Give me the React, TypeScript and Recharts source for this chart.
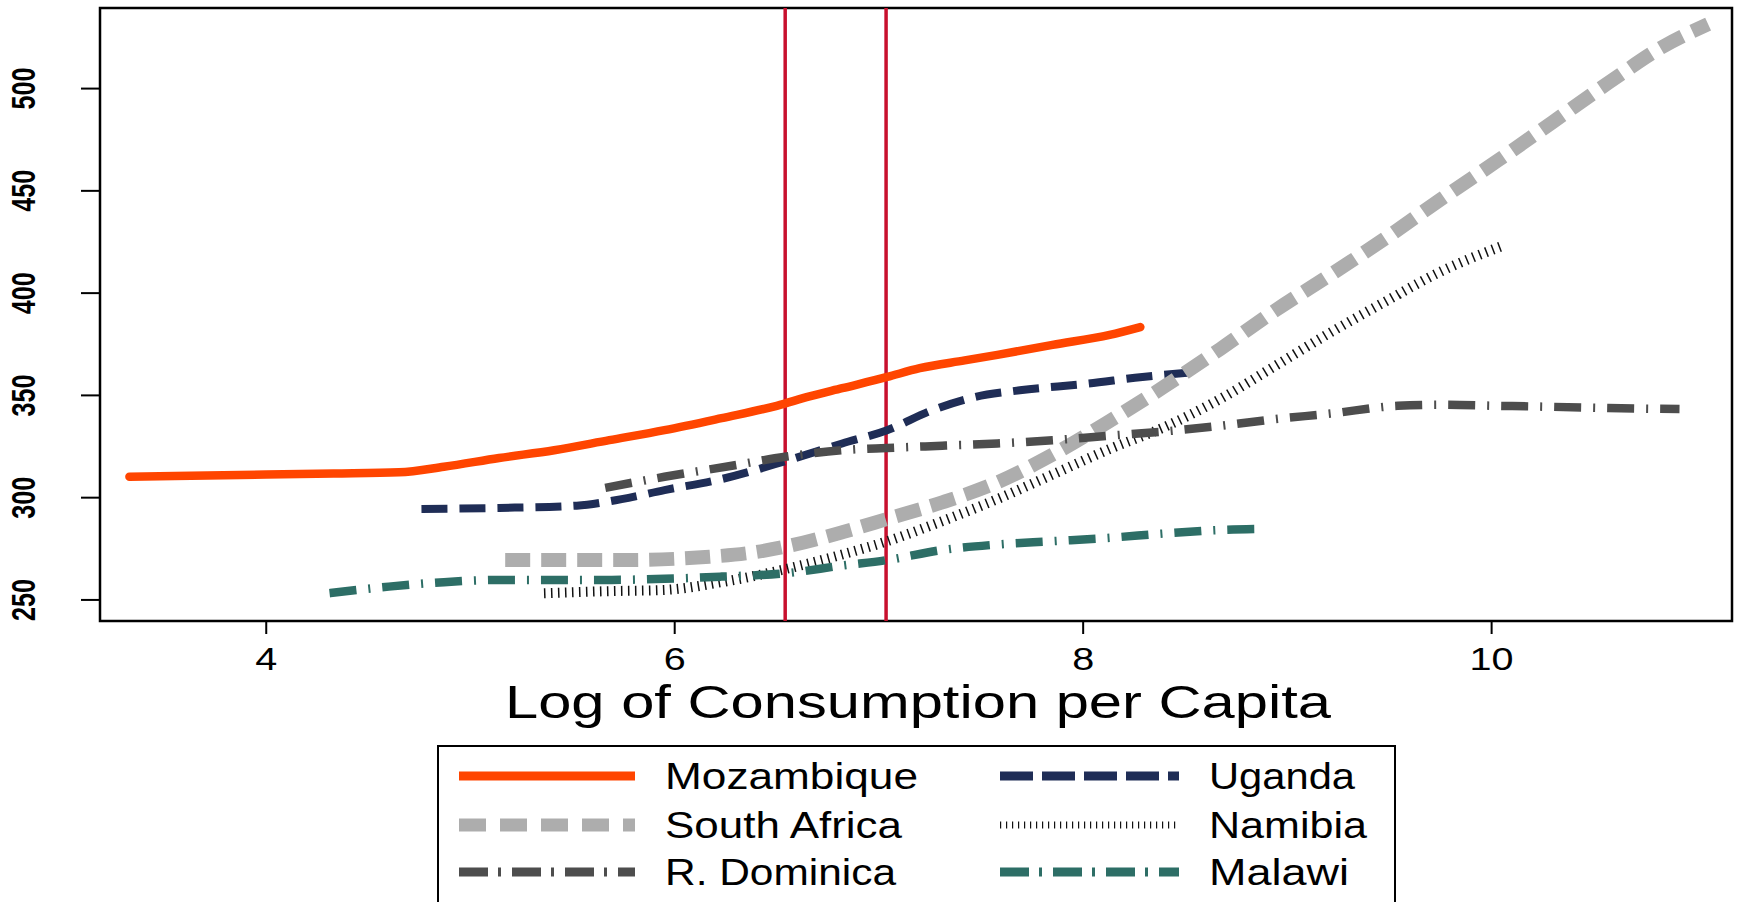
import React from 'react';
import { LineChart, Line, XAxis, YAxis, ReferenceLine, ReferenceArea, Legend } from 'recharts';

// Log of consumption per capita (x) vs. fitted outcome (y), one pair of arrays per country
const mozambiqueX = [3.33, 4.0, 4.33, 4.65, 4.87, 5.14, 5.41, 5.68, 5.95, 6.23, 6.5, 6.66, 6.82, 7.04, 7.2, 7.42, 7.58, 7.85, 8.13, 8.28];
const mozambiqueY = [310.2, 311.3, 311.8, 312.4, 315.1, 319.4, 323.2, 328.1, 333, 338.9, 344.9, 349.5, 353.5, 359, 363.3, 367.1, 369.8, 374.7, 379.6, 383.4];

const ugandaX = [4.76, 5.14, 5.52, 5.74, 5.95, 6.23, 6.54, 6.82, 7.04, 7.26, 7.47, 7.69, 8.02, 8.29, 8.53];
const ugandaY = [294.5, 295, 296.1, 299.3, 303.7, 309.1, 317.8, 326.5, 333, 342.7, 349.2, 352.5, 355.7, 359, 361.2];

const southAfricaX = [5.17, 5.74, 6.17, 6.39, 6.54, 6.82, 7.04, 7.31, 7.58, 7.85, 8.13, 8.4, 8.67, 8.94, 9.21, 9.48, 9.75, 10.03, 10.3, 10.57, 10.84, 11.06];
const southAfricaY = [269.5, 269.5, 271.1, 273.3, 276, 283.1, 289.6, 297.7, 307.5, 321, 337.5, 354.5, 372.6, 391.5, 408.9, 426.8, 445.8, 464.8, 483.7, 502.7, 520.6, 531.5];

const rDominicaX = [5.66, 5.95, 6.28, 6.54, 6.82, 7.04, 7.31, 7.58, 7.85, 8.13, 8.4, 8.67, 8.94, 9.21, 9.54, 9.75, 10.03, 10.3, 10.57, 10.92];
const rDominicaY = [304.8, 310.2, 315.6, 320, 323.2, 324.3, 325.4, 326.5, 328.1, 330.3, 332.4, 335.1, 338.4, 341.1, 344.9, 345.4, 344.9, 344.4, 343.8, 343.3];

const namibiaX = [5.36, 5.68, 5.95, 6.23, 6.5, 6.82, 7.04, 7.31, 7.58, 7.85, 8.13, 8.4, 8.67, 8.94, 9.21, 9.48, 9.75, 10.05];
const namibiaY = [253.3, 254.3, 254.9, 258.7, 264.1, 272.2, 278.7, 288.5, 299.3, 311.3, 323.8, 334.6, 348.2, 364.4, 380.7, 395.9, 410.5, 423];

const malawiX = [4.31, 4.6, 4.87, 5.14, 5.41, 5.68, 5.95, 6.23, 6.54, 6.82, 7.04, 7.31, 7.58, 7.85, 8.13, 8.4, 8.67, 8.89];
const malawiY = [253.3, 256.5, 258.7, 259.8, 259.8, 259.8, 260.3, 261.4, 263, 266.8, 269.5, 274.4, 277.1, 278.7, 280.4, 282.5, 284.2, 284.7];

// vertical cut-offs
const cutoffs = [6.541, 7.035];

const xTicks = [4, 6, 8, 10];
const yTicks = [250, 300, 350, 400, 450, 500];
const xDomain = [3.186, 11.177];
const yDomain = [239.7, 539.4];

const FONT = '"Liberation Sans", Arial, sans-serif';

const toRows = (xs: number[], ys: number[]) => xs.map((x, i) => ({ x, y: ys[i] }));

const series = [
  { name: 'Mozambique', data: toRows(mozambiqueX, mozambiqueY), color: '#FF4500', width: 8.5, dash: undefined, legendWidth: 9, legendDash: undefined, col: 0, row: 0 },
  { name: 'Uganda', data: toRows(ugandaX, ugandaY), color: '#1F2D56', width: 8, dash: '26 12', legendWidth: 9, legendDash: '33 9', col: 1, row: 0 },
  { name: 'South Africa', data: toRows(southAfricaX, southAfricaY), color: '#ADADAD', width: 14, dash: '25 11', legendWidth: 13, legendDash: '27 14', col: 0, row: 1 },
  { name: 'Namibia', data: toRows(namibiaX, namibiaY), color: '#111111', width: 10, dash: '1.5 5.5', legendWidth: 7, legendDash: '1.2 4.8', col: 1, row: 1 },
  { name: 'R. Dominica', data: toRows(rDominicaX, rDominicaY), color: '#4D4D4D', width: 8.5, dash: '27 12 2 12', legendWidth: 9, legendDash: '29 10 3 11', col: 0, row: 2 },
  { name: 'Malawi', data: toRows(malawiX, malawiY), color: '#2D6E66', width: 8.5, dash: '27 12 2 12', legendWidth: 9, legendDash: '29 10 3 11', col: 1, row: 2 },
];

// legend text widths
const legendTextWidth: Record<string, number> = {
  Mozambique: 253,
  'South Africa': 237,
  'R. Dominica': 231,
  Uganda: 146,
  Namibia: 158,
  Malawi: 140,
};

const YTick = (props: any) => {
  const { y, payload } = props;
  return (
    <text
      transform={`translate(23, ${y}) rotate(-90)`}
      textAnchor="middle"
      dominantBaseline="central"
      fontFamily={FONT}
      fontSize={34}
      fontWeight={600}
      fill="#000"
      textLength={42}
      lengthAdjust="spacingAndGlyphs"
    >
      {payload.value}
    </text>
  );
};

const XTick = (props: any) => {
  const { x, payload } = props;
  return (
    <text x={x} y={670} textAnchor="middle" fontFamily={FONT} fontSize={32} fill="#000" textLength={String(payload.value).length * 22} lengthAdjust="spacingAndGlyphs">
      {payload.value}
    </text>
  );
};

const XTitle = () => (
  <text x={918} y={718} textAnchor="middle" fontFamily={FONT} fontSize={47} fill="#000" textLength={826} lengthAdjust="spacingAndGlyphs">
    Log of Consumption per Capita
  </text>
);

const LegendBox = () => {
  const rowY = [31, 80, 127];
  const lineX = [[22, 198], [563, 742]];
  const textX = [228, 772];
  return (
    <svg width={960} height={170} style={{ display: 'block' }}>
      <rect x={1} y={1} width={957} height={200} fill="#fff" stroke="#000" strokeWidth={2} />
      {series.map((s) => (
        <g key={s.name}>
          <line
            x1={lineX[s.col][0]}
            x2={lineX[s.col][1]}
            y1={rowY[s.row]}
            y2={rowY[s.row]}
            stroke={s.color}
            strokeWidth={s.legendWidth}
            strokeDasharray={s.legendDash}
          />
          <text
            x={textX[s.col]}
            y={rowY[s.row] + 13}
            fontFamily={FONT}
            fontSize={37}
            fill="#000"
            textLength={legendTextWidth[s.name]}
            lengthAdjust="spacingAndGlyphs"
          >
            {s.name}
          </text>
        </g>
      ))}
    </svg>
  );
};

export default function App() {
  return (
    <div style={{ position: 'absolute', left: 0, top: 0, width: 1739, height: 902, overflow: 'hidden', background: '#fff' }}>
      <LineChart width={1739} height={902} margin={{ top: 8, right: 7, left: 0, bottom: 0 }}>
        <XAxis
          dataKey="x"
          type="number"
          domain={xDomain}
          ticks={xTicks}
          allowDataOverflow
          height={281}
          axisLine={false}
          tickSize={13}
          tickLine={{ stroke: '#000', strokeWidth: 2 }}
          tick={<XTick />}
          label={<XTitle />}
        />
        <YAxis
          type="number"
          domain={yDomain}
          ticks={yTicks}
          allowDataOverflow
          width={100}
          axisLine={false}
          tickSize={19}
          tickLine={{ stroke: '#000', strokeWidth: 2 }}
          tick={<YTick />}
        />
        {cutoffs.map((c) => (
          <ReferenceLine key={c} x={c} stroke="#C8102E" strokeWidth={3.5} />
        ))}
        {series.map((s) => (
          <Line
            key={s.name}
            data={s.data}
            dataKey="y"
            name={s.name}
            type="monotone"
            stroke={s.color}
            strokeWidth={s.width}
            strokeDasharray={s.dash}
            strokeLinecap={s.dash ? 'butt' : 'round'}
            dot={false}
            activeDot={false}
            isAnimationActive={false}
          />
        ))}
        <ReferenceArea x1={xDomain[0]} x2={xDomain[1]} y1={yDomain[0]} y2={yDomain[1]} fill="none" stroke="#000" strokeWidth={2.5} />
        <Legend
          verticalAlign="middle"
          align="center"
          layout="horizontal"
          width={960}
          height={170}
          wrapperStyle={{ left: 437, top: 745 }}
          content={() => <LegendBox />}
        />
      </LineChart>
    </div>
  );
}
